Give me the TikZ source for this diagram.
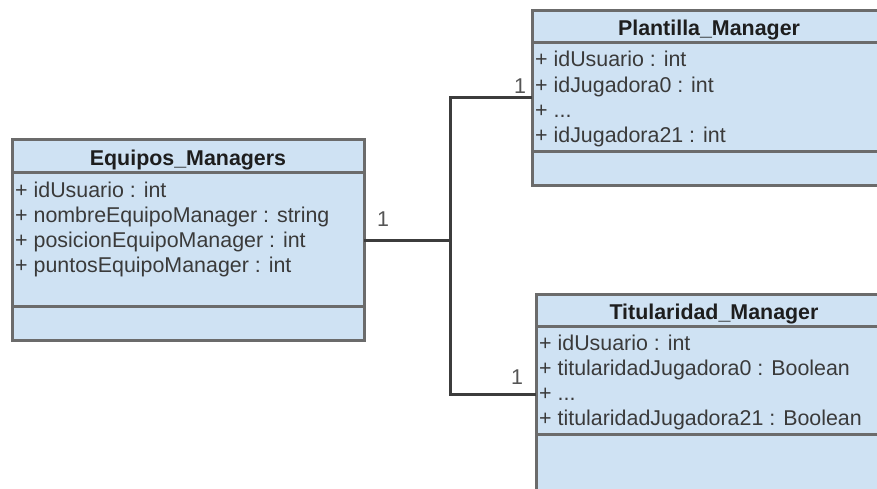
\documentclass[tikz,border=0pt]{standalone}
\usepackage{fontspec}
\setmainfont{Liberation Sans}
\newcommand\elided{...}
\begin{document}
\begin{tikzpicture}[x=1pt,y=-1pt,
  classbox/.style={draw=boxline, line width=3pt, fill=boxfill, rectangle,
    inner sep=0pt, outer sep=0pt, anchor=north west},
  sep/.style={draw=boxline, line width=3pt},
  title/.style={font=\fontsize{21.4}{25}\selectfont\bfseries, text=titletext,
    inner sep=0pt, anchor=base},
  attr/.style={font=\fontsize{21.4}{25}\selectfont, text=attrtext,
    inner sep=0pt, anchor=base west},
  mult/.style={font=\fontsize{21.4}{25}\selectfont, text=multtext, inner sep=0pt},
  assoc/.style={draw=linecol, line width=3pt, line join=miter}]
\definecolor{boxfill}{HTML}{CFE2F3}
\definecolor{boxline}{HTML}{6B6B6B}
\definecolor{titletext}{HTML}{1E1E1E}
\definecolor{attrtext}{HTML}{3A3A3A}
\definecolor{multtext}{HTML}{555555}
\definecolor{linecol}{HTML}{3C3C3C}
\useasboundingbox (0,0) rectangle (877,489);
\clip (0,0) rectangle (877,489);

% Equipos_Managers
\node[classbox, minimum width=352pt, minimum height=200pt] (eq) at (12,140) {};
\draw[sep] (12,173) -- (364,173);
\draw[sep] (12,306) -- (364,306);
\node[title] (eqt) at (188,165) {Equipos\_Managers};
\foreach \t [count=\i] in {+ idUsuario : int, + nombreEquipoManager : string,
    + posicionEquipoManager : int, + puntosEquipoManager : int}
  \node[attr] (eqa\i) at (15,{197+25*(\i-1)}) {\t};

% Plantilla_Manager
\node[classbox, minimum width=354pt, minimum height=174pt] (pl) at (532,11) {};
\draw[sep] (532,43) -- (886,43);
\draw[sep] (532,152) -- (886,152);
\node[title] (plt) at (709,36) {Plantilla\_Manager};
\foreach \t [count=\i] in {+ idUsuario : int, + idJugadora0 : int,
    + \elided, + idJugadora21 : int}
  \node[attr] (pla\i) at (535,{67+25.3*(\i-1)}) {\t};

% Titularidad_Manager
\node[classbox, minimum width=356pt, minimum height=200pt] (ti) at (536,294) {};
\draw[sep] (536,326) -- (892,326);
\draw[sep] (536,434) -- (892,434);
\node[title] (tit) at (714,319) {Titularidad\_Manager};
\foreach \t [count=\i] in {+ idUsuario : int, + titularidadJugadora0 : Boolean,
    + \elided, + titularidadJugadora21 : Boolean}
  \node[attr] (tia\i) at (539,{350+25*(\i-1)}) {\t};

% associations
\coordinate (j) at (450,240);
\draw[assoc] (eq.east) -- (j);
\draw[assoc] (pl.west) -| (j) |- (ti.west);

% multiplicities
\node[mult] (m1) at (383,219) {1};
\node[mult] (m2) at (520,86) {1};
\node[mult] (m3) at (517,377) {1};
\end{tikzpicture}
\end{document}
